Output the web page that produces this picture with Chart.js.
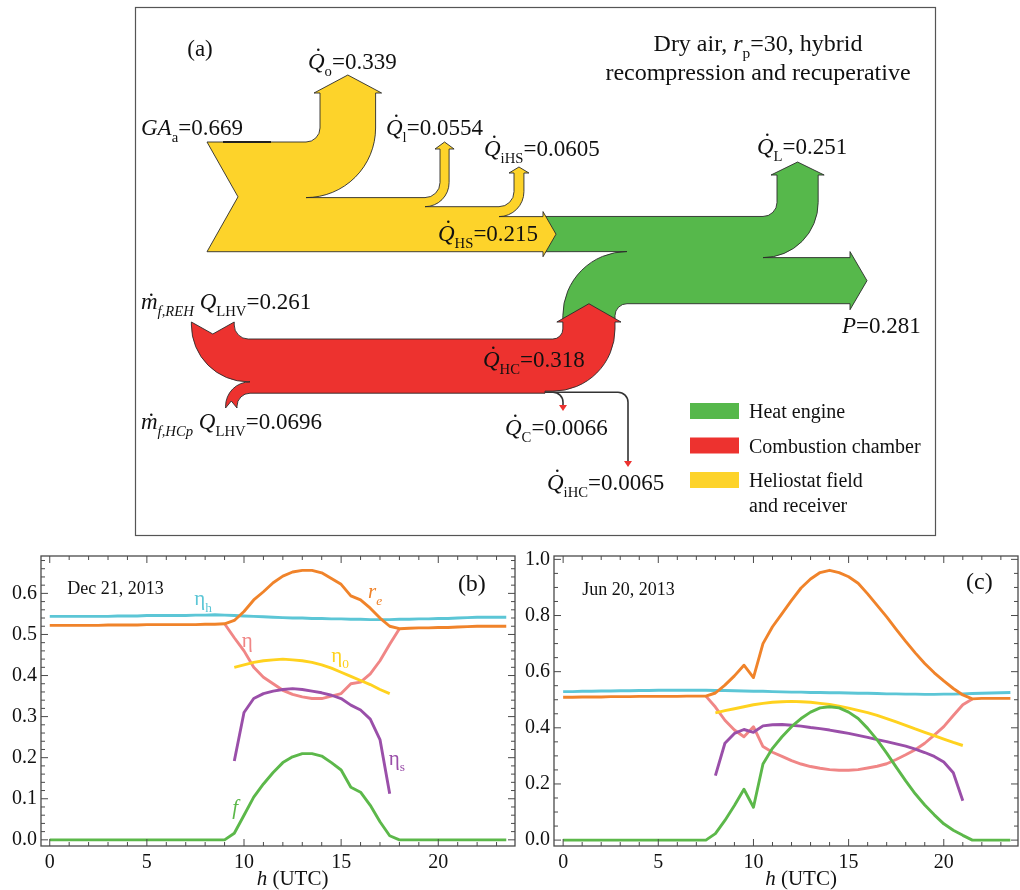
<!DOCTYPE html>
<html>
<head>
<meta charset="utf-8">
<script src="https://cdn.jsdelivr.net/npm/chart.js@4.4.1/dist/chart.umd.min.js"></script>
<style>
  body { margin: 0; background: #fff; }
  #wrap { position: relative; width: 1020px; height: 890px; }
  canvas { position: absolute; }
</style>
</head>
<body>
<div id="wrap">
  <canvas id="sankey" width="1020" height="540" style="left:0;top:0"></canvas>
  <canvas id="dec" width="520" height="350" style="left:0;top:540px"></canvas>
  <canvas id="jun" width="505" height="350" style="left:515px;top:540px"></canvas>
</div>
<script>
const SERIF = '"Liberation Serif", "Times New Roman", serif';

// (a) energy flows, fraction of incoming solar energy
const solarNames  = ['GA_a', 'Q_o', 'Q_l', 'Q_iHS', 'Q_HS'];
const solarValues = [0.669, 0.339, 0.0554, 0.0605, 0.215];
const engineNames  = ['Q_L', 'P'];
const engineValues = [0.251, 0.281];
const fuelNames  = ['REH', 'HCp', 'Q_HC', 'Q_C', 'Q_iHC'];
const fuelValues = [0.261, 0.0696, 0.318, 0.0066, 0.0065];
const legendLabels = [['Heat engine'], ['Combustion chamber'], ['Heliostat field', 'and receiver']];
const legendColors = ['#56b84b', '#ed322f', '#fdd32a'];

// (b), (c) hourly series
const hours = [0, 0.5, 1, 1.5, 2, 2.5, 3, 3.5, 4, 4.5, 5, 5.5, 6, 6.5, 7, 7.5,
  8, 8.5, 9, 9.5, 10, 10.5, 11, 11.5, 12, 12.5, 13, 13.5, 14, 14.5, 15, 15.5,
  16, 16.5, 17, 17.5, 18, 18.5, 19, 19.5, 20, 20.5, 21, 21.5, 22, 22.5, 23, 23.5];

const decEtaH = [0.544,0.544,0.544,0.544,0.544,0.544,0.544,0.545,
  0.545,0.545,0.546,0.546,0.546,0.546,0.546,0.547,
  0.547,0.548,0.547,0.546,0.545,0.544,0.543,0.542,
  0.541,0.540,0.540,0.539,0.539,0.538,0.538,0.537,
  0.537,0.536,0.536,0.536,0.537,0.537,0.538,0.538,
  0.539,0.539,0.540,0.541,0.542,0.542,0.542,0.542];
const decRe = [0.522,0.522,0.522,0.522,0.522,0.522,0.523,0.523,
  0.523,0.523,0.524,0.524,0.524,0.524,0.524,0.524,
  0.525,0.525,0.526,0.534,0.556,0.584,0.604,0.626,
  0.642,0.652,0.656,0.656,0.650,0.636,0.622,0.594,
  0.584,0.564,0.540,0.520,0.514,0.515,0.516,0.516,
  0.517,0.517,0.518,0.519,0.520,0.520,0.520,0.520];
const decEta = [null,null,null,null,null,null,null,null,
  null,null,null,null,null,null,null,null,
  null,null,0.526,0.492,0.460,0.420,0.396,0.380,
  0.364,0.354,0.348,0.344,0.344,0.350,0.356,0.380,
  0.384,0.404,0.436,0.476,0.514,null,null,null,
  null,null,null,null,null,null,null,null];
const decEta0 = [null,null,null,null,null,null,null,null,
  null,null,null,null,null,null,null,null,
  null,null,null,0.420,0.426,0.432,0.436,0.438,
  0.440,0.438,0.436,0.432,0.426,0.418,0.408,0.398,
  0.388,0.378,0.366,0.356,null,null,null,null,
  null,null,null,null,null,null,null,null];
const decEtaS = [null,null,null,null,null,null,null,null,
  null,null,null,null,null,null,null,null,
  null,null,null,0.192,0.310,0.344,0.356,0.362,
  0.366,0.368,0.366,0.362,0.358,0.352,0.344,0.328,
  0.316,0.294,0.244,0.112,null,null,null,null,
  null,null,null,null,null,null,null,null];
const decF = [0,0,0,0,0,0,0,0,
  0,0,0,0,0,0,0,0,
  0,0,0,0.016,0.060,0.104,0.136,0.164,
  0.188,0.202,0.210,0.210,0.204,0.188,0.170,0.128,
  0.116,0.084,0.044,0.010,0,0,0,0,
  0,0,0,0,0,0,0,0];

const junEtaH = [0.529,0.529,0.530,0.530,0.531,0.531,0.532,0.532,
  0.533,0.533,0.534,0.534,0.534,0.534,0.534,0.534,
  0.533,0.533,0.532,0.531,0.530,0.530,0.529,0.528,
  0.527,0.527,0.526,0.526,0.525,0.525,0.524,0.523,
  0.523,0.522,0.521,0.521,0.520,0.520,0.519,0.519,
  0.520,0.520,0.521,0.522,0.523,0.524,0.525,0.526];
const junRe = [0.509,0.509,0.510,0.510,0.510,0.511,0.511,0.511,
  0.512,0.512,0.512,0.512,0.512,0.513,0.513,0.513,
  0.524,0.552,0.585,0.623,0.579,0.700,0.760,0.807,
  0.854,0.898,0.930,0.953,0.961,0.953,0.938,0.915,
  0.877,0.836,0.795,0.751,0.708,0.667,0.629,0.596,
  0.567,0.540,0.517,0.503,0.505,0.505,0.505,0.505];
const junEta = [null,null,null,null,null,null,null,null,
  null,null,null,null,null,null,null,0.513,
  0.474,0.427,0.392,0.368,0.404,0.333,0.313,0.298,
  0.283,0.271,0.262,0.256,0.251,0.249,0.249,0.251,
  0.257,0.263,0.272,0.287,0.304,0.322,0.345,0.374,
  0.404,0.444,0.482,0.503,null,null,null,null];
const junEta0 = [null,null,null,null,null,null,null,null,
  null,null,null,null,null,null,null,null,
  0.453,0.461,0.468,0.475,0.482,0.487,0.491,0.493,
  0.494,0.493,0.491,0.487,0.483,0.477,0.470,0.462,
  0.454,0.444,0.433,0.421,0.409,0.396,0.384,0.372,
  0.360,0.348,0.337,null,null,null,null,null];
const junEtaS = [null,null,null,null,null,null,null,null,
  null,null,null,null,null,null,null,null,
  0.230,0.345,0.380,0.394,0.384,0.407,0.411,0.412,
  0.409,0.406,0.401,0.397,0.392,0.386,0.380,0.373,
  0.366,0.358,0.351,0.343,0.335,0.324,0.312,0.298,
  0.278,0.240,0.140,null,null,null,null,null];
const junF = [0,0,0,0,0,0,0,0,
  0,0,0,0,0,0,0,0,
  0.023,0.070,0.123,0.181,0.117,0.271,0.327,0.368,
  0.404,0.433,0.456,0.471,0.475,0.471,0.456,0.433,
  0.398,0.357,0.310,0.260,0.211,0.165,0.125,0.090,
  0.058,0.035,0.017,0,0,0,0,0];

const COLORS = { re: '#f0832a', etaH: '#5cc6d6', f: '#5cb84a', etaS: '#9a4fa9', eta0: '#ffd21f', eta: '#f08686' };

// Rich text: parts like {t, it, sub, dot}
function fontFor(p, size) {
  const s = p.sub ? size * 0.64 : size;
  return (p.it ? 'italic ' : '') + s.toFixed(1) + 'px ' + SERIF;
}
function drawRich(ctx, parts, x, y, size, align, color) {
  const widths = parts.map(p => { ctx.font = fontFor(p, size); return ctx.measureText(p.t).width; });
  const total = widths.reduce((a, b) => a + b, 0);
  let cx = align === 'center' ? x - total / 2 : align === 'right' ? x - total : x;
  ctx.save();
  ctx.fillStyle = color || '#111';
  ctx.textAlign = 'left';
  ctx.textBaseline = 'alphabetic';
  parts.forEach((p, i) => {
    ctx.font = fontFor(p, size);
    ctx.fillText(p.t, cx, p.sub ? y + size * 0.3 : y);
    if (p.dot) {
      ctx.beginPath();
      ctx.arc(cx + widths[i] * 0.62, y - size * p.dot, size * 0.055, 0, 2 * Math.PI);
      ctx.fill();
    }
    cx += widths[i];
  });
  ctx.restore();
}

// ---------- (a) Sankey ----------
const UNIT = 164; // px per unit of flow
const Qd = { t: 'Q', it: true, dot: 0.84 };

const sankeyPlugin = {
  id: 'sankey',
  afterDraw(chart) {
    const ctx = chart.ctx;
    const sx = chart.scales.x, sy = chart.scales.y;
    const X = v => sx.getPixelForValue(v);
    const Y = v => sy.getPixelForValue(v);
    const k = X(1) - X(0);
    const W = v => v * UNIT;
    const PI = Math.PI, H = PI / 2;
    const M = (x, y) => ctx.moveTo(X(x), Y(y));
    const Ln = (x, y) => ctx.lineTo(X(x), Y(y));
    const A = (cx, cy, r, a0, a1, ccw) => ctx.arc(X(cx), Y(cy), r * k, a0, a1, ccw);
    const finish = color => {
      ctx.closePath();
      ctx.fillStyle = color; ctx.fill();
      ctx.strokeStyle = '#2b2b2b'; ctx.lineWidth = 0.9; ctx.stroke();
    };
    // flow turning upward off the top of a horizontal band
    const branch = (xs, r, wd, base, tip, wing, yTop) => {
      Ln(xs - r, yTop);
      A(xs - r, yTop - r, r, H, 0, true);
      Ln(xs, base); Ln(xs - wing, base); Ln(xs + wd / 2, tip); Ln(xs + wd + wing, base); Ln(xs + wd, base);
      Ln(xs + wd, yTop - r);
      A(xs - r, yTop - r, r + wd, 0, H, false);
      return yTop + wd;
    };

    ctx.save();
    // frame
    ctx.strokeStyle = '#555'; ctx.lineWidth = 1.2;
    ctx.strokeRect(X(135.5), Y(7.5), 800 * k, 528 * k);

    const [wGA, wO, wl, wI, wHS] = solarValues.map(W);
    const [wL, wP] = engineValues.map(W);
    const [wREH, wHCp, wHC] = fuelValues.map(W);

    const yT = 142, xL = 207, xN = 238, yB = yT + wGA;
    const gx0 = 545, gTop = yB - wHS, gBot = gTop + wL + wP;
    const hcR = 12, hcCx = 627, hcCy = gBot + hcR, headBase = 322;

    // green: heat engine
    ctx.beginPath();
    M(gx0, gTop);
    let yy = branch(777, 14, wL, 175, 162, 6, gTop);
    Ln(850, yy); Ln(850, yy - 6); Ln(867, yy + wP / 2); Ln(850, gBot + 6); Ln(850, gBot);
    Ln(hcCx, gBot);
    A(hcCx, hcCy, hcR, -H, PI, true);
    Ln(hcCx - hcR, headBase);
    Ln(hcCx - hcR - wHC, headBase);
    Ln(hcCx - hcR - wHC, hcCy);
    A(hcCx, hcCy, hcR + wHC, PI, -H, false);
    Ln(gx0, yB);
    finish(legendColors[0]);

    // yellow: heliostat field and receiver
    ctx.beginPath();
    M(xL, yT);
    yy = branch(320, 14, wO, 93, 75, 6, yT);
    yy = branch(440, 15, wl, 149, 142, 5, yy);
    yy = branch(514, 15, wI, 173, 167, 5, yy);
    Ln(543, yy); Ln(543, yy - 5); Ln(556, (yy + yB) / 2); Ln(543, yB + 5); Ln(543, yB);
    Ln(xL, yB); Ln(xN, (yT + yB) / 2);
    finish(legendColors[2]);

    // red: combustion chamber
    const rTop = 339, rehX = 191.4, rehR = 14;
    const rehCx = rehX + wREH + rehR, rehCy = rTop - rehR;
    const hcIn = 10, sL = hcCx - hcR - wHC, sR = hcCx - hcR;
    const hcCx2 = sL - hcIn, hcCy2 = rTop - hcIn;
    const lossX = 545, rBot = rTop + wREH + wHCp;
    const hpR = 13, hpCx = 250, hpCy = rBot + hpR, tail2 = 408;
    ctx.beginPath();
    M(rehX, 322);
    Ln(rehX + wREH / 2, 334); Ln(rehX + wREH, 322); Ln(rehX + wREH, rehCy);
    A(rehCx, rehCy, rehR, PI, H, true);
    Ln(hcCx2, rTop);
    A(hcCx2, hcCy2, hcIn, H, 0, true);
    Ln(sL, headBase); Ln(sL - 6, headBase); Ln((sL + sR) / 2, gBot); Ln(sR + 6, headBase); Ln(sR, headBase);
    Ln(sR, hcCy2);
    A(hcCx2, hcCy2, hcIn + wHC, 0, H, false);
    Ln(lossX, rTop + wHC); Ln(lossX, rBot);
    Ln(hpCx, rBot);
    A(hpCx, hpCy, hpR, -H, PI, true);
    Ln(hpCx - hpR, tail2); Ln(hpCx - hpR - wHCp / 2, tail2 - 7); Ln(hpCx - hpR - wHCp, tail2);
    Ln(hpCx - hpR - wHCp, hpCy);
    A(hpCx, hpCy, hpR + wHCp, PI, -H, false);
    Ln(rehCx, rTop + wREH);
    A(rehCx, rehCy, rehR + wREH, H, PI, false);
    finish(legendColors[1]);

    // small losses from the combustion chamber
    ctx.strokeStyle = '#333'; ctx.lineWidth = Math.max(1.6, W(fuelValues[3]));
    ctx.beginPath();
    M(lossX, rBot - 1); Ln(553, rBot - 1); A(553, rBot + 9, 10, -H, 0, false); Ln(563, 406);
    ctx.stroke();
    ctx.beginPath();
    M(lossX, rBot - 1); Ln(618, rBot - 1); A(618, rBot + 9, 10, -H, 0, false); Ln(628, 462);
    ctx.stroke();
    ctx.fillStyle = legendColors[1];
    [[563, 405, 411], [628, 461, 467]].forEach(([ax, a0, a1]) => {
      ctx.beginPath(); M(ax - 4, a0); Ln(ax + 4, a0); Ln(ax, a1); ctx.closePath(); ctx.fill();
    });
    // dark mark on the GA_a input
    ctx.lineWidth = 2; ctx.strokeStyle = '#222';
    ctx.beginPath(); M(223, yT); Ln(271, yT); ctx.stroke();

    // legend
    legendLabels.forEach((lines, i) => {
      const top = 403 + i * 34.5;
      ctx.fillStyle = legendColors[i];
      ctx.fillRect(X(690), Y(top), 49 * k, 16 * k);
      lines.forEach((t, j) => drawRich(ctx, [{ t }], X(749), Y(top + 15 + j * 25), 20, 'left'));
    });

    // labels
    const S = 23;
    const lab = (parts, x, y) => drawRich(ctx, parts, X(x), Y(y), S, 'left');
    drawRich(ctx, [{ t: '(a)' }], X(200), Y(56), 23, 'center');
    drawRich(ctx, [{ t: 'Dry air, ' }, { t: 'r', it: true }, { t: 'p', sub: true }, { t: '=30, hybrid' }], X(758), Y(51), 24, 'center');
    drawRich(ctx, [{ t: 'recompression and recuperative' }], X(758), Y(80), 24, 'center');
    lab([{ t: 'GA', it: true }, { t: 'a', sub: true }, { t: '=' + solarValues[0] }], 141, 135);
    lab([Qd, { t: 'o', sub: true }, { t: '=' + solarValues[1] }], 308, 69);
    lab([Qd, { t: 'l', sub: true }, { t: '=' + solarValues[2] }], 386, 135);
    lab([Qd, { t: 'iHS', sub: true }, { t: '=' + solarValues[3] }], 484, 156);
    lab([Qd, { t: 'HS', sub: true }, { t: '=' + solarValues[4] }], 438, 241);
    lab([Qd, { t: 'L', sub: true }, { t: '=' + engineValues[0] }], 757, 154);
    lab([{ t: 'P', it: true }, { t: '=' + engineValues[1] }], 842, 333);
    lab([{ t: 'm', it: true, dot: 0.62 }, { t: 'f,REH', sub: true, it: true }, { t: ' ' }, { t: 'Q', it: true }, { t: 'LHV', sub: true }, { t: '=' + fuelValues[0] }], 141, 309);
    lab([{ t: 'm', it: true, dot: 0.62 }, { t: 'f,HCp', sub: true, it: true }, { t: ' ' }, { t: 'Q', it: true }, { t: 'LHV', sub: true }, { t: '=' + fuelValues[1] }], 141, 429);
    lab([Qd, { t: 'HC', sub: true }, { t: '=' + fuelValues[2] }], 483, 367);
    lab([Qd, { t: 'C', sub: true }, { t: '=' + fuelValues[3] }], 505, 435);
    lab([Qd, { t: 'iHC', sub: true }, { t: '=' + fuelValues[4] }], 547, 490);
    ctx.restore();
  }
};

new Chart(document.getElementById('sankey'), {
  type: 'scatter',
  data: { datasets: [] },
  options: {
    responsive: false, animation: false, devicePixelRatio: 1,
    layout: { padding: 0 },
    plugins: { legend: { display: false }, tooltip: { enabled: false } },
    scales: {
      x: { type: 'linear', min: 0, max: 1020, display: false },
      y: { type: 'linear', min: 0, max: 540, reverse: true, display: false }
    }
  },
  plugins: [sankeyPlugin]
});

// ---------- (b), (c) line panels ----------
const frameTicks = {
  id: 'frameTicks',
  afterDraw(chart, args, opts) {
    const { ctx, chartArea: a, scales: { x, y } } = chart;
    ctx.save();
    ctx.strokeStyle = '#4a4a4a';
    ctx.lineWidth = 1.3;
    ctx.strokeRect(a.left, a.top, a.right - a.left, a.bottom - a.top);
    ctx.lineWidth = 1;
    const seg = (x0, y0, x1, y1) => { ctx.beginPath(); ctx.moveTo(x0, y0); ctx.lineTo(x1, y1); ctx.stroke(); };
    const isMajor = (v, step) => Math.abs(v / step - Math.round(v / step)) < 1e-6;
    for (let v = Math.ceil(x.min / opts.xMinor) * opts.xMinor; v <= x.max; v += opts.xMinor) {
      const p = x.getPixelForValue(v), len = isMajor(v, opts.xMajor) ? 7 : 4;
      seg(p, a.bottom, p, a.bottom - len); seg(p, a.top, p, a.top + len);
    }
    for (let i = Math.ceil(y.min / opts.yMinor); i * opts.yMinor <= y.max; i++) {
      const v = i * opts.yMinor;
      const p = y.getPixelForValue(v), len = isMajor(v, opts.yMajor) ? 7 : 4;
      seg(a.left, p, a.left + len, p); seg(a.right, p, a.right - len, p);
    }
    drawRich(ctx, [{ t: 'h', it: true }, { t: ' (UTC)' }], x.getPixelForValue(12.5), a.bottom + 39, 21, 'center');
    opts.notes.forEach(n => {
      drawRich(ctx, n.parts, x.getPixelForValue(n.x), y.getPixelForValue(n.y) + n.size * 0.33, n.size, n.align || 'center', n.color);
    });
    ctx.restore();
  }
};

function makePanel(id, cfg) {
  const series = [
    ['r_e', cfg.re, COLORS.re],
    ['eta_h', cfg.etaH, COLORS.etaH],
    ['f', cfg.f, COLORS.f],
    ['eta_s', cfg.etaS, COLORS.etaS],
    ['eta_0', cfg.eta0, COLORS.eta0],
    ['eta', cfg.eta, COLORS.eta]
  ];
  return new Chart(document.getElementById(id), {
    type: 'line',
    data: {
      datasets: series.map(([label, vals, color]) => ({
        label,
        data: hours.map((h, i) => ({ x: h, y: vals[i] })),
        borderColor: color,
        borderWidth: 2.9,
        pointRadius: 0,
        tension: 0,
        spanGaps: false,
        fill: false
      }))
    },
    options: {
      responsive: false, animation: false, devicePixelRatio: 1,
      layout: { padding: { left: 0, right: cfg.padRight, top: 12, bottom: 0 } },
      plugins: { legend: { display: false }, tooltip: { enabled: false }, frameTicks: cfg.ticks },
      elements: { line: { borderJoinStyle: 'round' } },
      scales: {
        x: {
          type: 'linear', min: cfg.xMin, max: cfg.xMax,
          grid: { display: false, drawTicks: false }, border: { display: false },
          ticks: { stepSize: 5, includeBounds: false, padding: 5, maxRotation: 0, color: '#111',
                   font: { family: SERIF, size: 20 } },
          afterFit: s => { s.height = 44; }
        },
        y: {
          type: 'linear', min: cfg.yMin, max: cfg.yMax,
          grid: { display: false, drawTicks: false }, border: { display: false },
          ticks: { stepSize: cfg.yStep, includeBounds: false, padding: 4, color: '#111',
                   font: { family: SERIF, size: 20 }, callback: v => v.toFixed(1) },
          afterFit: s => { s.width = cfg.yAxisW; }
        }
      }
    },
    plugins: [frameTicks]
  });
}

makePanel('dec', {
  re: decRe, etaH: decEtaH, f: decF, etaS: decEtaS, eta0: decEta0, eta: decEta,
  xMin: -0.45, xMax: 23.95, yMin: -0.015, yMax: 0.691, yStep: 0.1,
  yAxisW: 41, padRight: 5,
  ticks: {
    xMinor: 1, xMajor: 5, yMinor: 0.02, yMajor: 0.1,
    notes: [
      { parts: [{ t: 'Dec 21, 2013' }], x: 0.9, y: 0.612, size: 18, align: 'left' },
      { parts: [{ t: '(b)' }], x: 21.73, y: 0.626, size: 24 },
      { parts: [{ t: 'η' }, { t: 'h', sub: true }], x: 7.9, y: 0.588, size: 21, color: COLORS.etaH },
      { parts: [{ t: 'r', it: true }, { t: 'e', sub: true, it: true }], x: 16.75, y: 0.605, size: 21, color: COLORS.re },
      { parts: [{ t: 'η' }], x: 10.17, y: 0.487, size: 21, color: COLORS.eta },
      { parts: [{ t: 'η' }, { t: '0', sub: true }], x: 14.95, y: 0.451, size: 21, color: COLORS.eta0 },
      { parts: [{ t: 'η' }, { t: 's', sub: true }], x: 17.87, y: 0.199, size: 21, color: COLORS.etaS },
      { parts: [{ t: 'f', it: true }], x: 9.55, y: 0.079, size: 21, color: COLORS.f }
    ]
  }
});

makePanel('jun', {
  re: junRe, etaH: junEtaH, f: junF, etaS: junEtaS, eta0: junEta0, eta: junEta,
  xMin: -0.48, xMax: 23.9, yMin: -0.021, yMax: 1.012, yStep: 0.2,
  yAxisW: 39, padRight: 2,
  ticks: {
    xMinor: 1, xMajor: 5, yMinor: 0.05, yMajor: 0.2,
    notes: [
      { parts: [{ t: 'Jun 20, 2013' }], x: 1.0, y: 0.895, size: 18, align: 'left' },
      { parts: [{ t: '(c)' }], x: 21.87, y: 0.923, size: 24 }
    ]
  }
});
</script>
</body>
</html>
